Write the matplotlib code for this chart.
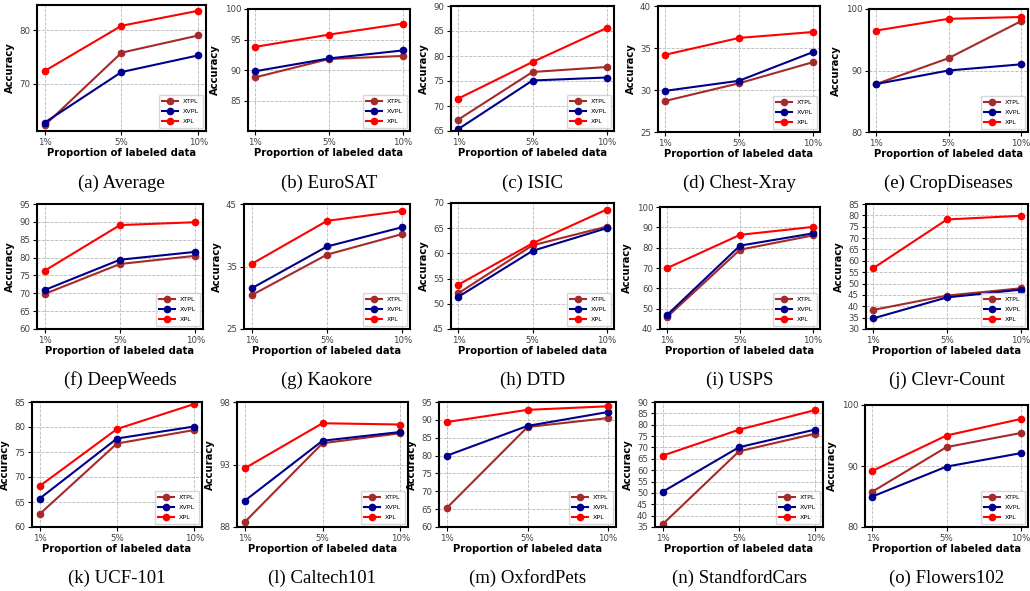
import matplotlib.pyplot as plt

W, H = 1030, 591

proportions = ["1%", "5%", "10%"]
methods = ["XTPL", "XVPL", "XPL"]
colors = {"XTPL": "#a52a2a", "XVPL": "#00008b", "XPL": "#ff0000"}

# accuracy per dataset: XTPL, XVPL, XPL
average = [[62.3, 75.8, 79.0], [62.8, 72.2, 75.3], [72.4, 80.8, 83.6]]
eurosat = [[88.8, 91.8, 92.3], [89.8, 91.9, 93.2], [93.8, 95.8, 97.6]]
isic = [[67.3, 76.8, 77.8], [65.4, 75.1, 75.7], [71.5, 78.8, 85.6]]
chest_xray = [[28.7, 30.8, 33.3], [29.9, 31.1, 34.5], [34.2, 36.2, 36.9]]
crop_diseases = [[87.8, 92.0, 98.0], [87.8, 90.0, 91.0], [96.5, 98.4, 98.7]]
deep_weeds = [[69.8, 78.2, 80.5], [70.9, 79.4, 81.6], [76.3, 89.1, 89.9]]
kaokore = [[30.4, 36.9, 40.2], [31.5, 38.2, 41.3], [35.4, 42.3, 43.9]]
dtd = [[52.1, 61.6, 65.3], [51.4, 60.5, 65.0], [53.8, 62.0, 68.7]]
usps = [[46.0, 79.0, 86.0], [47.0, 81.0, 87.0], [70.0, 86.3, 90.2]]
clevr_count = [[38.4, 44.7, 47.9], [34.7, 43.9, 47.3], [56.8, 78.2, 79.8]]
ucf101 = [[62.6, 76.7, 79.4], [65.7, 77.7, 80.1], [68.2, 79.6, 84.6]]
caltech101 = [[88.4, 94.7, 95.5], [90.1, 94.9, 95.6], [92.7, 96.3, 96.2]]
oxford_pets = [[65.4, 88.0, 90.5], [80.0, 88.3, 92.2], [89.4, 92.8, 93.8]]
stanford_cars = [[36.2, 68.3, 76.1], [50.5, 70.1, 77.9], [66.4, 77.8, 86.5]]
flowers102 = [[85.8, 93.1, 95.4], [85.0, 89.9, 92.1], [89.2, 95.0, 97.7]]

captions = ["(a) Average", "(b) EuroSAT", "(c) ISIC", "(d) Chest-Xray", "(e) CropDiseases",
            "(f) DeepWeeds", "(g) Kaokore", "(h) DTD", "(i) USPS", "(j) Clevr-Count",
            "(k) UCF-101", "(l) Caltech101", "(m) OxfordPets", "(n) StandfordCars",
            "(o) Flowers102"]
datasets = [average, eurosat, isic, chest_xray, crop_diseases,
            deep_weeds, kaokore, dtd, usps, clevr_count,
            ucf101, caltech101, oxford_pets, stanford_cars, flowers102]

# y limits and ticks per panel
ylims = [None, (80, 100), (65, 90), (25, 40), (80, 100),
         (60, 95), (25, 45), (45, 70), (40, 100), (30, 85),
         (60, 85), (88, 98), (60, 95), (35, 90), (80, 100)]
yticks = [[70, 80], [85, 90, 95, 100], range(65, 91, 5), range(25, 41, 5), [80, 90, 100],
          range(60, 96, 5), [25, 35, 45], range(45, 71, 5), range(40, 101, 10), range(30, 86, 5),
          range(60, 86, 5), [88, 93, 98], range(60, 96, 5), range(35, 91, 5), [80, 90, 100]]

# axes boxes in pixels: left, top, right, bottom
boxes = [(37, 5, 206, 131), (248, 9, 410, 131), (451, 6, 614, 131), (658, 6, 820, 132), (869, 9, 1028, 132),
         (37, 204, 203, 329), (244, 204, 410, 329), (451, 203, 614, 329), (660, 207, 820, 329), (866, 204, 1028, 329),
         (32, 402, 202, 527), (237, 402, 408, 527), (439, 402, 616, 527), (655, 402, 823, 527), (865, 405, 1028, 527)]
caption_y = [183, 183, 183, 183, 183, 380, 380, 380, 380, 380, 578, 578, 578, 578, 578]

fig = plt.figure(figsize=(W / 100, H / 100), dpi=100)

for i, data in enumerate(datasets):
    l, t, r, b = boxes[i]
    ax = fig.add_axes([l / W, 1 - b / H, (r - l) / W, (b - t) / H])
    x = range(len(proportions))
    for m, vals in zip(methods, data):
        ax.plot(x, vals, marker="o", markersize=4.5, linewidth=1.5, color=colors[m], label=m)
    ax.set_xticks(list(x))
    ax.set_xticklabels(proportions)
    if ylims[i] is not None:
        ax.set_ylim(*ylims[i])
    ax.set_yticks(list(yticks[i]))
    ax.grid(True, linestyle="--", color="#b8b8b8", linewidth=0.6)
    ax.tick_params(labelsize=6.2, color="black", labelcolor="#404040", length=3, width=0.8, pad=2)
    for s in ax.spines.values():
        s.set_linewidth(1.5)
    ax.set_xlabel("Proportion of labeled data", fontsize=7.2, fontweight="bold", labelpad=1)
    ax.set_ylabel("Accuracy", fontsize=7.2, fontweight="bold", labelpad=3)
    ax.legend(loc="lower right", fontsize=4.6, handlelength=2.4, borderpad=0.6,
              labelspacing=0.7, framealpha=0.8)
    fig.text((l + r) / 2 / W, 1 - caption_y[i] / H, captions[i], ha="center", va="center",
             fontsize=13.5, family="Liberation Serif")

fig.savefig("out.png", dpi=100)
